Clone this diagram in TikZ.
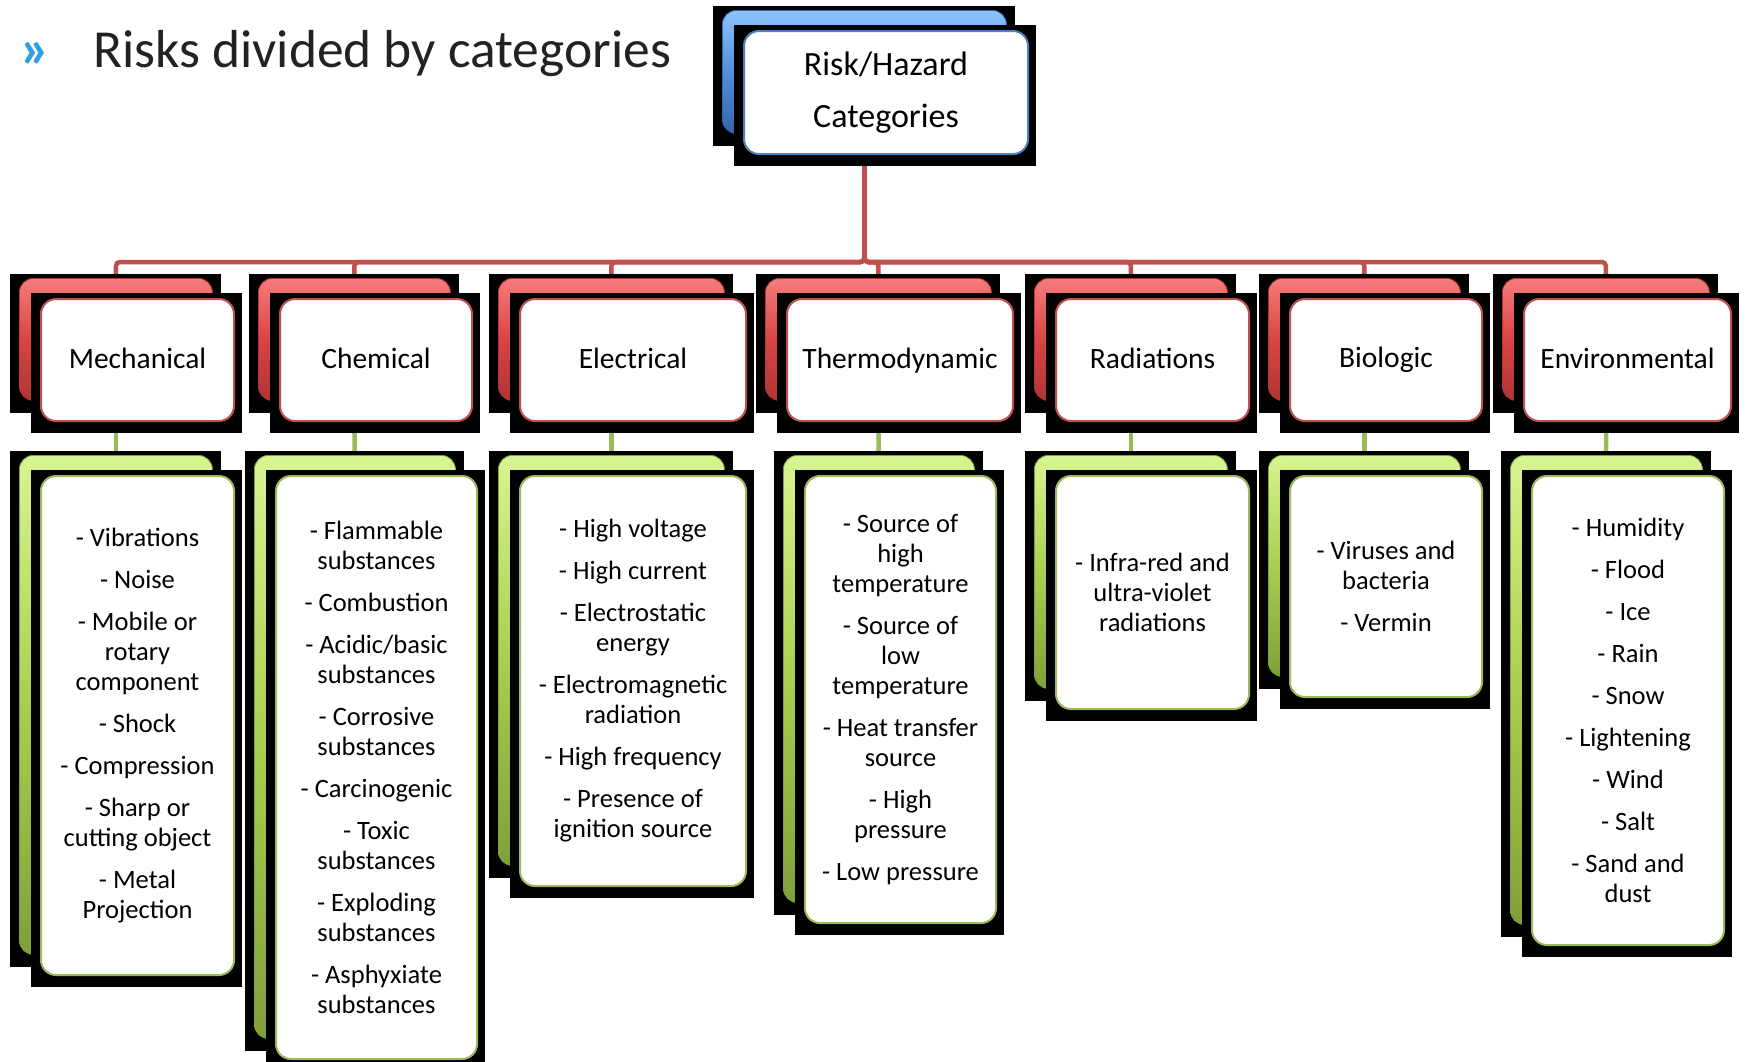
\documentclass[tikz,border=0pt]{standalone}
\usepackage{fontspec}
\setmainfont{Carlito}
\definecolor{RLine}{HTML}{C0504D}
\definecolor{RTop}{HTML}{F67C7C}
\definecolor{RMid}{HTML}{DA4444}
\definecolor{RBot}{HTML}{B03434}
\definecolor{GLine}{HTML}{9BBB59}
\definecolor{GTop}{HTML}{D8F590}
\definecolor{GMid}{HTML}{A8CF50}
\definecolor{GBot}{HTML}{7FA03A}
\definecolor{BLine}{HTML}{4F81BD}
\definecolor{BTop}{HTML}{8CC4FF}
\definecolor{BMid}{HTML}{4F8EDC}
\definecolor{BBot}{HTML}{3466A8}
\definecolor{titlegray}{HTML}{222222}
\definecolor{bulletblue}{HTML}{2E9FE0}
\pgfdeclarelayer{bg}
\pgfdeclarelayer{lines}
\pgfsetlayers{bg,lines,main}
\newcommand\gap{\\[12pt]}
\newcommand\cstrut{\rule[-4pt]{0pt}{25pt}}
\newcommand\duobox[8]{%
  \fill[black] (#2-9,#3-4) rectangle (#2+#4+9,#3+#5+13);
  \node[backbox=#6, anchor=north west, minimum width=#4pt, minimum height=#5pt, inner sep=0pt] (#1-b) at (#2,#3) {};
  \fill[black] (#2+12,#3+15) rectangle (#2+21+#4+9,#3+20+#5+13);
  \node[frontbox=#6, anchor=north west, minimum width=#4pt, minimum height=#5pt, inner sep=0pt, font=#7, align=center] (#1-f) at (#2+21,#3+20) {#8};
}
\begin{document}
\begin{tikzpicture}[x=1pt,y=-1pt,
  backbox/.style={rounded corners=14pt, draw=#1Bot, line width=0.8pt, top color=#1Top, bottom color=#1Bot, middle color=#1Mid},
  frontbox/.style={rounded corners=15pt, draw=#1Line, line width=2pt, fill=white},
  redline/.style={draw=RLine, line width=4.5pt, rounded corners=4pt},
  greenline/.style={draw=GLine, line width=4.5pt},
]
\useasboundingbox (0,0) rectangle (1746,1061);
\begin{pgfonlayer}{bg}
\fill[white] (0,0) rectangle (1746,1061);
\end{pgfonlayer}

% title
\node[anchor=base west, inner sep=0pt, font=\bfseries\fontsize{56}{60}\selectfont, text=bulletblue] (bullet) at (20,67) {»};
\node[anchor=base west, inner sep=0pt, font=\fontsize{53.5}{60}\selectfont, text=titlegray] (title) at (93,67) {Risks divided by categories};

% top box
\duobox{top}{722}{10}{284}{123}{B}{\fontsize{34}{52}\selectfont}{Risk/Hazard\\Categories}

% categories
\def\cf{\fontsize{29.5}{34}\selectfont}
\duobox{mech}{19}{278}{193}{122}{R}{\cf}{\cstrut Mechanical}
\duobox{chem}{258}{278}{192}{122}{R}{\cf}{\cstrut Chemical}
\duobox{elec}{498}{278}{226}{122}{R}{\cf}{\cstrut Electrical}
\duobox{thermo}{765}{278}{226}{122}{R}{\cf}{\cstrut Thermodynamic}
\duobox{rad}{1034}{278}{193}{122}{R}{\cf}{\cstrut Radiations}
\duobox{bio}{1268}{278}{192}{122}{R}{\cf}{\cstrut Biologic}
\duobox{env}{1502}{278}{207}{122}{R}{\cf}{\cstrut Environmental}

% details
\def\df{\fontsize{26.5}{30}\selectfont}
\duobox{dmech}{19}{455}{193}{499}{G}{\df}{- Vibrations\gap - Noise\gap - Mobile or\\rotary\\component\gap - Shock\gap - Compression\gap - Sharp or\\cutting object\gap - Metal\\Projection}
\duobox{dchem}{254}{455}{201}{583}{G}{\df}{- Flammable\\substances\gap - Combustion\gap - Acidic/basic\\substances\gap - Corrosive\\substances\gap - Carcinogenic\gap - Toxic\\substances\gap - Exploding\\substances\gap - Asphyxiate\\substances}
\duobox{delec}{498}{455}{226}{410}{G}{\df}{- High voltage\gap - High current\gap - Electrostatic\\energy\gap - Electromagnetic\\radiation\gap - High frequency\gap - Presence of\\ignition source}
\duobox{dthermo}{783}{455}{191}{447}{G}{\df}{- Source of\\high\\temperature\gap - Source of\\low\\temperature\gap - Heat transfer\\source\gap - High\\pressure\gap - Low pressure}
\duobox{drad}{1034}{455}{193}{233}{G}{\df}{- Infra-red and\\ultra-violet\\radiations}
\duobox{dbio}{1268}{455}{192}{221}{G}{\df}{- Viruses and\\bacteria\gap - Vermin}
\duobox{denv}{1510}{455}{192}{469}{G}{\df}{- Humidity\gap - Flood\gap - Ice\gap - Rain\gap - Snow\gap - Lightening\gap - Wind\gap - Salt\gap - Sand and\\dust}

% connectors
\begin{pgfonlayer}{lines}
\coordinate (bus) at (0,262);
\foreach \n in {mech,chem,elec,thermo,rad,bio,env}{
  \draw[redline] (top-b.center) -- (top-b.center |- bus) -| (\n-b.center);
  \draw[greenline] (\n-b.center) -- (d\n-b.center);
}
\end{pgfonlayer}
\end{tikzpicture}
\end{document}
